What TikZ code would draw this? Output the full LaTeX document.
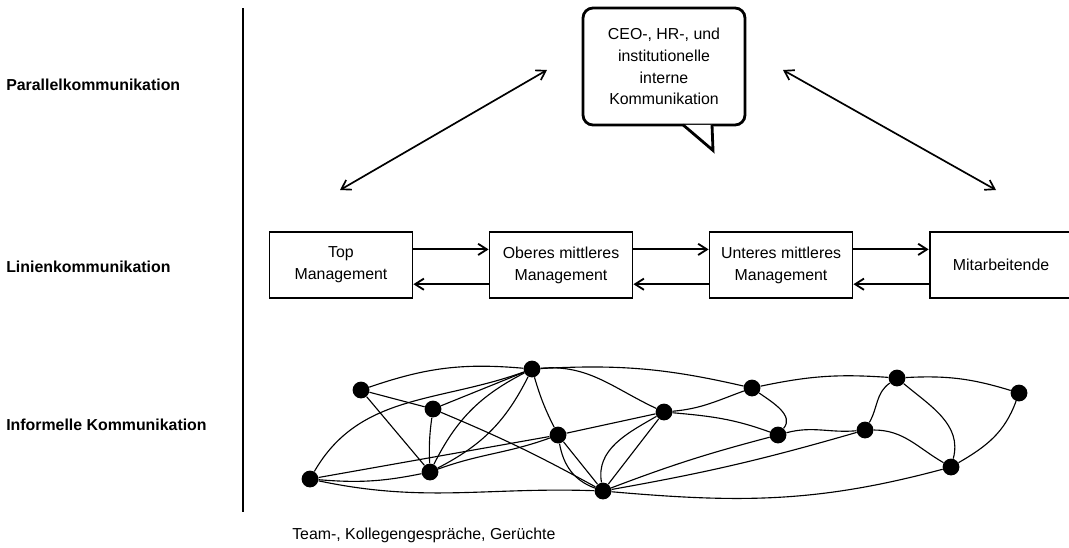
\documentclass[tikz,border=0pt]{standalone}
\usepackage{fontspec}
\setmainfont{Liberation Sans}
\usetikzlibrary{positioning,arrows.meta,calc}

\begin{document}
\begin{tikzpicture}[>={Straight Barb[length=2.2mm,width=2.8mm]},node distance=1.5cm and 1.88cm,
  font=\fontsize{11.3}{15.5}\selectfont,
  level/.style={anchor=west,inner sep=0pt,font=\fontsize{11.3}{15.5}\selectfont\bfseries},
  role/.style={draw,line width=1.3pt,minimum width=3.575cm,minimum height=1.65cm,align=center,inner sep=2pt},
  bubble/.style={draw,line width=2pt,rounded corners=0.25cm,minimum width=4.05cm,minimum height=2.925cm,align=center},
  dot/.style={circle,fill,inner sep=0pt,minimum size=0.42cm},
  link/.style={line width=0.8pt}]
\useasboundingbox (0,0) rectangle (26.725,-13.675);

% levels
\node[level] (par) at (0.15,-2.125) {Parallelkommunikation};
\node[level] (lin) at (0.15,-6.675) {Linienkommunikation};
\node[level] (inf) at (0.15,-10.625) {Informelle Kommunikation};
\draw[line width=1.8pt] (6.075,-0.2) -- (6.075,-12.8);

% parallel communication
\node[bubble] (ceo) at (16.6,-1.6625) {CEO-, HR-, und\\institutionelle\\interne\\Kommunikation};
\coordinate (tl) at ($(ceo.south)+(0.475,0.04)$);
\coordinate (tr) at ($(ceo.south)+(1.2,0.04)$);
\coordinate (tip) at ($(ceo.south)+(1.225,-0.6)$);
\draw[line width=2pt,fill=white] (tl) -- (tip) -- (tr);
\coordinate (pl1) at (13.675,-1.75);
\coordinate (pl2) at (8.5,-4.75);
\coordinate (pr1) at (19.575,-1.75);
\coordinate (pr2) at (24.9,-4.75);
\draw[<->,line width=1.2pt] (pl1) -- (pl2);
\draw[<->,line width=1.2pt] (pr1) -- (pr2);

% line communication
\node[role] (top) at (8.525,-6.625) {Top\\Management};
\node[role] (oben) [right=of top] {Oberes mittleres\\Management};
\node[role] (unten) [right=of oben] {Unteres mittleres\\Management};
\node[role] (mit) [right=of unten] {Mitarbeitende};
\draw[->,line width=1.3pt] ([yshift=0.39cm]top.east) -- ([yshift=0.39cm]oben.west);
\draw[->,line width=1.3pt] ([yshift=-0.48cm]oben.west) -- ([yshift=-0.48cm]top.east);
\draw[->,line width=1.3pt] ([yshift=0.39cm]oben.east) -- ([yshift=0.39cm]unten.west);
\draw[->,line width=1.3pt] ([yshift=-0.48cm]unten.west) -- ([yshift=-0.48cm]oben.east);
\draw[->,line width=1.3pt] ([yshift=0.39cm]unten.east) -- ([yshift=0.39cm]mit.west);
\draw[->,line width=1.3pt] ([yshift=-0.48cm]mit.west) -- ([yshift=-0.48cm]unten.east);

% informal communication
\node[dot] (k1) at (9.025,-9.75) {};
\node[dot] (k2) at (10.825,-10.225) {};
\node[dot] (k3) at (13.3,-9.225) {};
\node[dot] (k4) at (7.75,-11.975) {};
\node[dot] (k5) at (10.75,-11.8) {};
\node[dot] (k6) at (13.95,-10.875) {};
\node[dot] (k7) at (15.075,-12.275) {};
\node[dot] (k8) at (16.6,-10.3) {};
\node[dot] (k9) at (18.8,-9.7) {};
\node[dot] (k10) at (19.45,-10.875) {};
\node[dot] (k11) at (21.625,-10.75) {};
\node[dot] (k12) at (22.425,-9.45) {};
\node[dot] (k13) at (25.475,-9.825) {};
\node[dot] (k14) at (23.775,-11.675) {};
\draw[link] (k1) to[bend left=12] (k3);
\draw[link] (k1) -- (k2);
\draw[link] (k1) -- (k5);
\draw[link] (k2) -- (k3);
\draw[link] (k2) to[bend right=5] (k5);
\draw[link] (k2) to[bend left=3] (k7);
\draw[link] (k4) to[out=60,in=200] (k3);
\draw[link] (k4) to[bend right=8] (k5);
\draw[link] (k4) -- (k6);
\draw[link] (k4) to[out=-12,in=178] (k7);
\draw[link] (k5) to[bend left=18] (k3);
\draw[link] (k5) to[bend right=18] (k3);
\draw[link] (k5) to[out=20,in=200] (k6);
\draw[link] (k3) to[bend right=5] (k6);
\draw[link] (k3) to[out=5,in=155] (k8);
\draw[link] (k3) to[bend left=8] (k9);
\draw[link] (k6) -- (k8);
\draw[link] (k6) -- (k7);
\draw[link] (k6) to[out=-80,in=160] (k7);
\draw[link] (k7) to[out=100,in=210] (k8);
\draw[link] (k7) -- (k8);
\draw[link] (k7) to[bend left=3] (k10);
\draw[link] (k7) to[bend right=3] (k11);
\draw[link] (k7) to[out=-5,in=195] (k14);
\draw[link] (k8) to[out=5,in=200] (k9);
\draw[link] (k8) to[out=-5,in=160] (k10);
\draw[link] (k9) to[out=-35,in=50] (k10);
\draw[link] (k9) to[bend left=8] (k12);
\draw[link] (k10) to[out=15,in=185] (k11);
\draw[link] (k11) to[out=60,in=215] (k12);
\draw[link] (k11) to[out=0,in=150] (k14);
\draw[link] (k12) to[bend left=10] (k13);
\draw[link] (k12) to[out=-40,in=75] (k14);
\draw[link] (k13) to[out=-110,in=30] (k14);
\node[anchor=west,inner sep=0pt] (team) at (7.3,-13.375) {Team-, Kollegengespräche, Gerüchte};
\end{tikzpicture}
\end{document}
